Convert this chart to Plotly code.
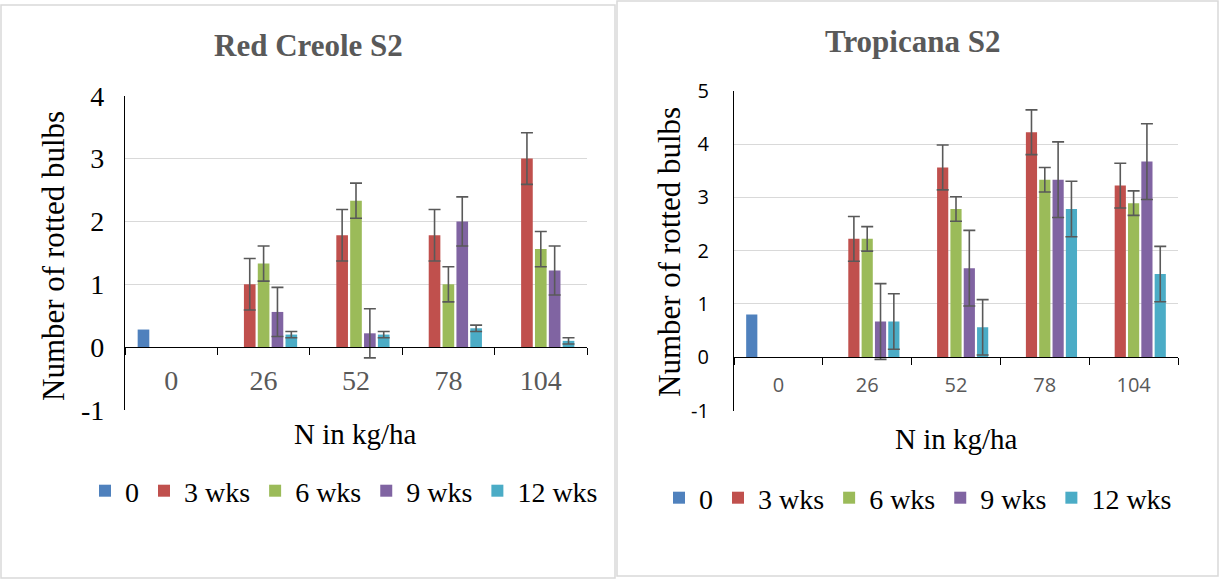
import plotly.graph_objects as go

W, H = 1220, 584

categories = ["0", "26", "52", "78", "104"]
series_names = ["0", "3 wks", "6 wks", "9 wks", "12 wks"]
colors = ["#4F81BD", "#C0504D", "#9BBB59", "#8064A2", "#4BACC6"]

# Red Creole S2
rc_0 = [0.28, None, None, None, None]
rc_3 = [None, 1.0, 1.78, 1.78, 3.0]
rc_6 = [None, 1.33, 2.33, 1.0, 1.56]
rc_9 = [None, 0.56, 0.22, 2.0, 1.22]
rc_12 = [None, 0.2, 0.2, 0.3, 0.1]
rc_err = [None, 0.41, 0.28, 0.39, 0.05]
rc_ticks = [-1, 0, 1, 2, 3, 4]
rc_ticktext = ["-1", "0", "1", "2", "3", "4"]

# Tropicana S2
tp_0 = [0.8, None, None, None, None]
tp_3 = [None, 2.22, 3.56, 4.22, 3.22]
tp_6 = [None, 2.22, 2.78, 3.33, 2.89]
tp_9 = [None, 0.67, 1.67, 3.33, 3.67]
tp_12 = [None, 0.67, 0.56, 2.78, 1.56]
tp_err = [None, 0.42, 0.23, 0.71, 0.52]
tp_ticks = [-1, 0, 1, 2, 3, 4, 5]
tp_ticktext = ["-1", "0", "1", "2", "3", "4", "5"]

SERIF = "Liberation Serif, Times New Roman, serif"
SANS = "Open Sans, Noto Sans, sans-serif"
GRAY = "#595959"
GRID = "#D9D9D9"


def px(x):
    return x / W


def py(y):
    return 1 - y / H


fig = go.Figure()

panels = [
    dict(vals=[rc_0, rc_3, rc_6, rc_9, rc_12], err=rc_err, xa="x", ya="y", legend="legend"),
    dict(vals=[tp_0, tp_3, tp_6, tp_9, tp_12], err=tp_err, xa="x2", ya="y2", legend="legend2"),
]

for p in panels:
    for i, (name, vals) in enumerate(zip(series_names, p["vals"])):
        e = p["err"][i]
        err = None
        if e is not None:
            err = dict(type="constant", value=e, visible=True, color="#595959",
                       thickness=1.6, width=6)
        fig.add_trace(go.Bar(
            x=categories, y=vals, name=name, marker=dict(color=colors[i], line=dict(width=0)),
            error_y=err, xaxis=p["xa"], yaxis=p["ya"], legend=p["legend"],
        ))

# Panel geometry (pixels)
L_x0, L_x1 = 125, 587
L_ytop, L_ybot = 95.7, 410
R_x0, R_x1 = 734, 1178
R_ytop, R_ybot = 90.7, 410.5

L_zero = L_ybot - (L_ybot - L_ytop) / 5
R_zero = R_ybot - (R_ybot - R_ytop) / 6

common_x = dict(type="category", anchor="free", showline=True, linecolor="black", linewidth=1.3,
                ticks="outside", ticklen=7, tickcolor="black", tickwidth=1.3,
                tickson="boundaries", showgrid=False, zeroline=False, automargin=False)
common_y = dict(showline=True, linecolor="black", linewidth=1.3, ticks="",
                showgrid=True, gridcolor=GRID, gridwidth=1.3, zeroline=False, automargin=False,
                tickmode="array")

fig.update_layout(
    template="none",
    width=W, height=H,
    margin=dict(l=0, r=0, t=0, b=0, pad=0, autoexpand=False),
    paper_bgcolor="white", plot_bgcolor="white",
    barmode="group", bargap=0.25, bargroupgap=0.16,
    xaxis=dict(common_x, domain=[px(L_x0), px(L_x1)], position=py(L_zero),
               tickfont=dict(family=SERIF, size=28, color=GRAY), ticklabelstandoff=8),
    yaxis=dict(common_y, domain=[py(L_ybot), py(L_ytop)], range=[-1, 4], anchor="x",
               tickvals=rc_ticks, ticktext=rc_ticktext,
               tickfont=dict(family=SERIF, size=28, color="black"), ticklabelstandoff=14),
    xaxis2=dict(common_x, domain=[px(R_x0), px(R_x1)], position=py(R_zero),
                tickfont=dict(family=SANS, size=20, color=GRAY), ticklabelstandoff=10),
    yaxis2=dict(common_y, domain=[py(R_ybot), py(R_ytop)], range=[-1, 5], anchor="x2",
                tickvals=tp_ticks, ticktext=tp_ticktext,
                tickfont=dict(family=SANS, size=20, color="black"), ticklabelstandoff=20),
    legend=dict(orientation="h", x=px(344), y=py(491), xanchor="center", yanchor="middle",
                font=dict(family=SERIF, size=28, color="black"), bgcolor="rgba(0,0,0,0)",
                borderwidth=0, itemsizing="constant", traceorder="normal"),
    legend2=dict(orientation="h", x=px(918), y=py(498), xanchor="center", yanchor="middle",
                 font=dict(family=SERIF, size=28, color="black"), bgcolor="rgba(0,0,0,0)",
                 borderwidth=0, itemsizing="constant", traceorder="normal"),
    showlegend=True,
)

# Panel borders
fig.add_shape(type="rect", xref="paper", yref="paper", x0=px(1), x1=px(615), y0=py(578), y1=py(5),
              line=dict(color=GRID, width=1.5), fillcolor="rgba(0,0,0,0)", layer="below")
fig.add_shape(type="rect", xref="paper", yref="paper", x0=px(617), x1=px(1218), y0=py(576), y1=py(1),
              line=dict(color=GRID, width=1.5), fillcolor="rgba(0,0,0,0)", layer="below")

ann = [
    dict(text="<b>Red Creole S2</b>", x=308.5, y=46, size=31, color=GRAY, angle=0),
    dict(text="<b>Tropicana S2</b>", x=912, y=42, size=31, color=GRAY, angle=0),
    dict(text="Number of rotted bulbs", x=53, y=256, size=31, color="black", angle=-90),
    dict(text="Number of rotted bulbs", x=670, y=252, size=31, color="black", angle=-90),
    dict(text="N in kg/ha", x=355.5, y=434, size=29, color="black", angle=0),
    dict(text="N in kg/ha", x=956, y=439, size=29, color="black", angle=0),
]
for a in ann:
    fig.add_annotation(text=a["text"], x=px(a["x"]), y=py(a["y"]), xref="paper", yref="paper",
                       xanchor="center", yanchor="middle", showarrow=False, textangle=a["angle"],
                       font=dict(family=SERIF, size=a["size"], color=a["color"]))

fig.write_html("out.html", config={"displayModeBar": False},
               post_script="document.body.style.margin='0';")
